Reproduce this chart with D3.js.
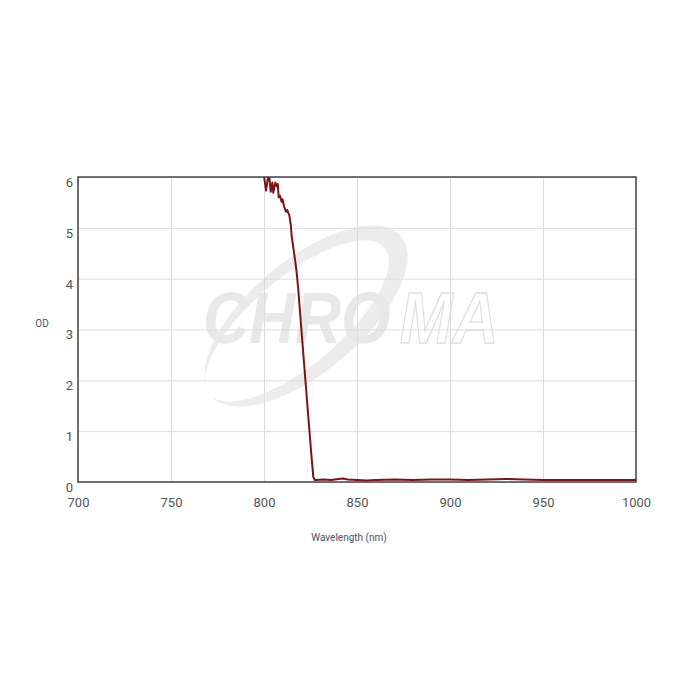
<!DOCTYPE html>
<html>
<head>
<meta charset="utf-8">
<script src="https://cdn.jsdelivr.net/npm/d3@7/dist/d3.min.js"></script>
<style>
  html, body { margin: 0; padding: 0; background: #fff; }
  svg { display: block; }
</style>
</head>
<body>
<svg id="chart" width="700" height="700"></svg>
<script>
// ---- data ----
const xTicks = [700, 750, 800, 850, 900, 950, 1000];
const yTicks = [0, 1, 2, 3, 4, 5, 6];
const xTitle = "Wavelength (nm)";
const yTitle = "OD";
const wavelength = [
  799.3, 800.0, 801.1, 802.2, 802.9, 803.6, 804.5, 805.0, 806.1, 806.8, 807.4,
  807.9, 808.6, 809.5, 810.0, 810.8, 811.8, 812.5, 813.1, 813.6, 814.4, 814.9,
  815.8, 816.7, 817.6, 818.4, 820.0, 822.0, 824.0, 825.5, 826.5, 827.2, 828.0,
  832, 836, 840, 842.5, 845, 850, 855, 860, 870, 880, 890, 900, 910, 920,
  930, 940, 950, 960, 970, 980, 990, 1000
];
const od = [
  6.35, 6.02, 5.73, 6.00, 5.99, 5.71, 5.89, 5.69, 5.89, 5.82, 5.86,
  5.60, 5.63, 5.51, 5.56, 5.42, 5.32, 5.35, 5.29, 5.25, 5.06, 4.83,
  4.60, 4.37, 4.11, 3.80, 3.05, 2.12, 1.20, 0.52, 0.10, 0.04, 0.04,
  0.05, 0.04, 0.06, 0.07, 0.05, 0.04, 0.03, 0.04, 0.05, 0.04, 0.05, 0.05, 0.04, 0.05,
  0.06, 0.05, 0.04, 0.04, 0.04, 0.04, 0.04, 0.04
];

// ---- layout ----
const svg = d3.select("#chart");
const L = 78, R = 636, T = 177, B = 482;
const x = d3.scaleLinear().domain([700, 1000]).range([L, R]);
const y = d3.scaleLinear().domain([0, 6]).range([B, T]);

// ---- watermark ----
const wm = svg.append("g").attr("class", "watermark");
const cx = 306, cy = 316;
function ellipsePath(ecx, ecy, rx, ry, rot) {
  const pts = d3.range(0, 361, 4).map(a => {
    const t = a * Math.PI / 180, r = rot * Math.PI / 180;
    const ex = rx * Math.cos(t), ey = ry * Math.sin(t);
    return [ecx + ex * Math.cos(r) - ey * Math.sin(r), ecy + ex * Math.sin(r) + ey * Math.cos(r)];
  });
  return d3.line()(pts) + "Z";
}
wm.append("path")
  .attr("d", ellipsePath(cx, cy, 124, 56, -40) + ellipsePath(cx - 9, cy + 5, 114, 44, -40))
  .attr("fill", "#ececec")
  .attr("fill-rule", "evenodd");
const wmText = wm.append("g")
  .attr("transform", "translate(203,343) scale(0.885,1)")
  .append("text")
  .attr("font-family", "Liberation Sans, Arial, sans-serif")
  .attr("font-weight", "bold").attr("font-style", "italic")
  .attr("font-size", 72);
wmText.append("tspan")
  .attr("fill", "#e8e8e8")
  .text("CHRO");
wmText.append("tspan")
  .attr("dx", 10)
  .attr("fill", "none").attr("stroke", "#dedede").attr("stroke-width", 1.3)
  .text("MA");

// ---- grid ----
const gx = svg.append("g").attr("transform", `translate(0,${B})`)
  .call(d3.axisBottom(x).tickValues(xTicks).tickSize(-(B - T)).tickFormat(""));
gx.select(".domain").remove();
gx.selectAll("line").attr("stroke", "#dcdcdc").attr("stroke-width", 1);
const gy = svg.append("g").attr("transform", `translate(${L},0)`)
  .call(d3.axisLeft(y).tickValues(yTicks).tickSize(-(R - L)).tickFormat(""));
gy.select(".domain").remove();
gy.selectAll("line").attr("stroke", "#dcdcdc").attr("stroke-width", 1);

// ---- curve ----
svg.append("clipPath").attr("id", "plotclip")
  .append("rect").attr("x", L).attr("y", T).attr("width", R - L).attr("height", B - T);
const pts = wavelength.map((w, i) => [w, od[i]]);
svg.append("path")
  .datum(pts)
  .attr("clip-path", "url(#plotclip)")
  .attr("fill", "none")
  .attr("stroke", "#7a1515")
  .attr("stroke-width", 2)
  .attr("stroke-linejoin", "round")
  .attr("d", d3.line().x(d => x(d[0])).y(d => y(d[1])));

// ---- frame ----
svg.append("rect")
  .attr("x", L).attr("y", T).attr("width", R - L).attr("height", B - T)
  .attr("fill", "none").attr("stroke", "#444").attr("stroke-width", 1.5);

// ---- axes labels ----
const ax = svg.append("g").attr("transform", `translate(0,${B})`)
  .call(d3.axisBottom(x).tickValues(xTicks).tickSize(0).tickPadding(16).tickFormat(d3.format("d")));
ax.select(".domain").remove();
ax.selectAll("text")
  .attr("font-family", "Roboto, Liberation Sans, sans-serif")
  .attr("font-size", 13).attr("fill", "#555");

const ay = svg.append("g").attr("transform", `translate(${L},0)`)
  .call(d3.axisLeft(y).tickValues(yTicks).tickSize(0).tickPadding(5).tickFormat(d3.format("d")));
ay.select(".domain").remove();
ay.selectAll("text")
  .attr("font-family", "Roboto, Liberation Sans, sans-serif")
  .attr("font-size", 13).attr("fill", "#555")
  .attr("dy", "0.72em");

svg.append("text")
  .attr("x", 349).attr("y", 541)
  .attr("text-anchor", "middle")
  .attr("font-family", "Roboto, Liberation Sans, sans-serif")
  .attr("font-size", 10).attr("fill", "#4a5366")
  .text(xTitle);
svg.append("text")
  .attr("x", 42).attr("y", 327)
  .attr("text-anchor", "middle")
  .attr("font-family", "Roboto, Liberation Sans, sans-serif")
  .attr("font-size", 10).attr("fill", "#4a5366")
  .text(yTitle);
</script>
</body>
</html>
